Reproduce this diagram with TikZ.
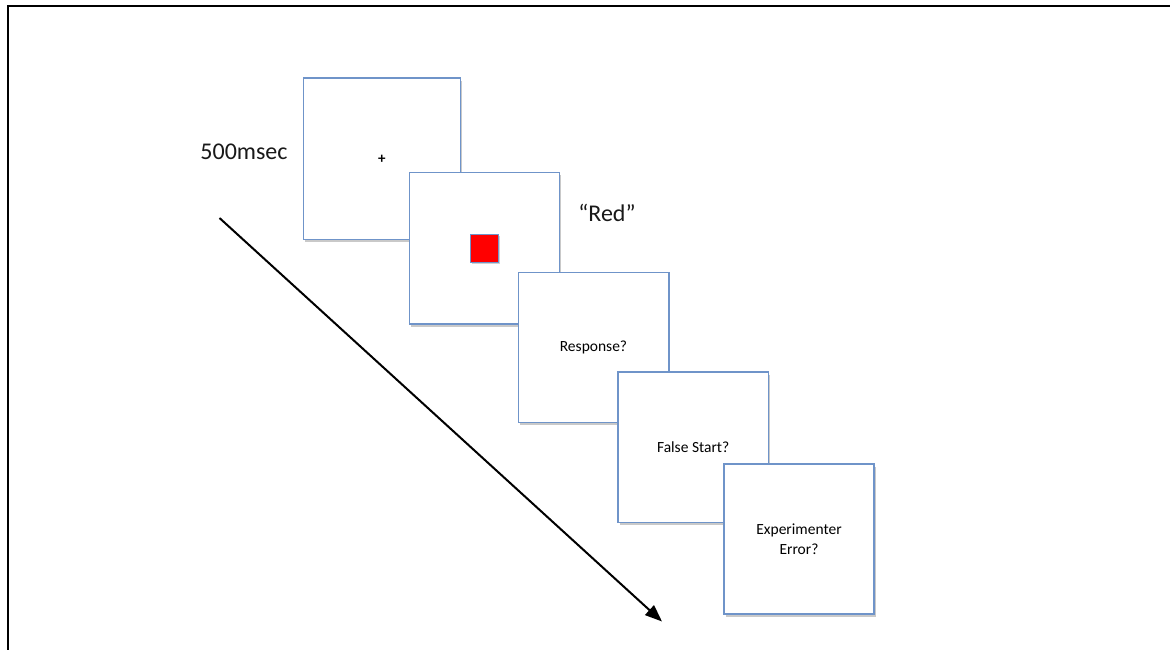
\documentclass[tikz,border=0pt]{standalone}
\usepackage{fontspec}
\setmainfont{Carlito}
\usetikzlibrary{shadows,arrows.meta}
\definecolor{boxblue}{HTML}{6F94C9}
\tikzset{
  screen/.style={draw=boxblue, line width=1.6pt, fill=white, inner sep=0pt,
    align=center, text=black, font=\fontsize{15.5}{19.5}\selectfont,
    drop shadow={shadow xshift=1.5pt, shadow yshift=-2.5pt, opacity=0.35, fill=black!60}},
  lbl/.style={inner sep=0pt, font=\fontsize{24}{28}\selectfont, text=black!90},
  frameline/.style={line width=2pt, black},
  timearrow/.style={line width=2pt, black, -{Triangle[length=17pt,width=13pt]}}
}
\begin{document}
\begin{tikzpicture}[x=1pt,y=-1pt]
\useasboundingbox (0,0) rectangle (1170,650);
\fill[white] (0,0) rectangle (1170,650);
\draw[frameline] (7.5,651) -- (7.5,6.5) -- (1171,6.5);

\node[screen, minimum width=157pt, minimum height=161pt] (s1) at (381.8,158.8) {};
\node[inner sep=0pt, font=\fontsize{15}{15}\bfseries\selectfont] (plus) at (381.8,159) {+};
\node[screen, minimum width=150pt, minimum height=151.7pt] (s2) at (484.3,248.2) {};
\node[draw=boxblue, line width=1pt, fill=red, minimum size=28pt, inner sep=0pt,
  drop shadow={shadow xshift=1pt, shadow yshift=-1.5pt, opacity=0.3, fill=black!60}] (red) at (484.7,248.7) {};
\node[screen, minimum width=150.4pt, minimum height=150pt] (s3) at (593.5,347.3) {Response?};
\node[screen, minimum width=150.3pt, minimum height=150.3pt] (s4) at (693.2,447.2) {False Start?};
\node[screen, minimum width=150pt, minimum height=150pt] (s5) at (799,539) {Experimenter\\Error?};

\node[lbl] (ms) at (244,152) {500msec};
\node[lbl] (word) at (607,213) {“Red”};

\coordinate (tstart) at (219.5,218);
\coordinate (tend) at (662,621.5);
\draw[timearrow] (tstart) -- (tend);
\end{tikzpicture}
\end{document}
